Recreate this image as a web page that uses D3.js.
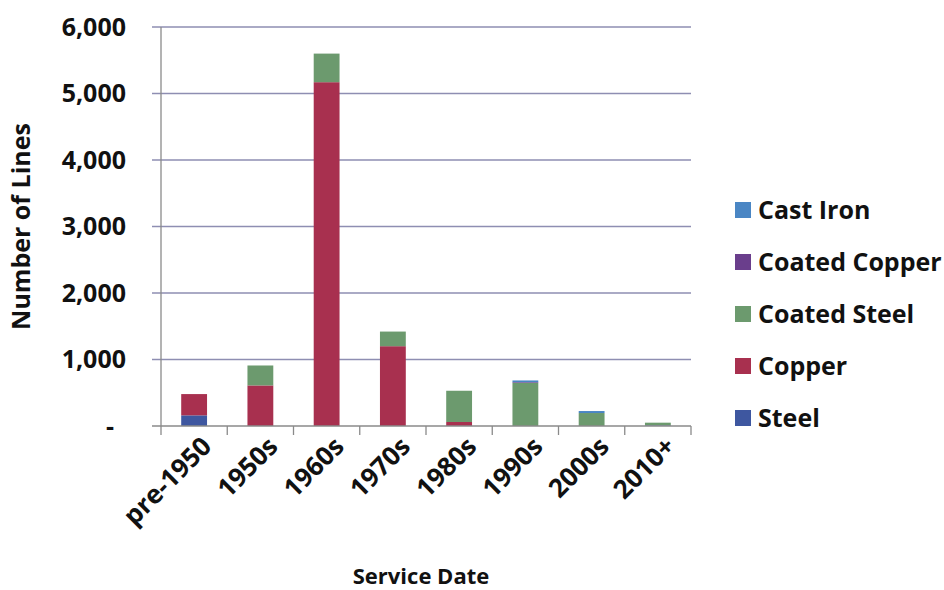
<!DOCTYPE html>
<html>
<head>
<meta charset="utf-8">
<script src="https://cdn.jsdelivr.net/npm/d3@7"></script>
<style>
  html, body { margin: 0; padding: 0; background: #fff; }
  svg { display: block; }
  text { font-family: "Open Sans", "Lato", sans-serif; font-weight: 700; fill: #111; }
</style>
</head>
<body>
<svg id="chart" width="944" height="590"></svg>
<script>
// Service lines by decade installed, split by material
const categories = ["pre-1950", "1950s", "1960s", "1970s", "1980s", "1990s", "2000s", "2010+"];
const steel        = [160,   0,    0,    0,   0,   0,   0, 10];
const copper       = [320, 610, 5170, 1200,  60,   0,   0,  0];
const coatedSteel  = [  0, 300,  430,  220, 470, 650, 195, 40];
const coatedCopper = [  0,   0,    0,    0,   0,  10,   0,  0];
const castIron     = [  0,   0,    0,    0,   0,  25,  30,  0];
const yTicks = [0, 1000, 2000, 3000, 4000, 5000, 6000];

// stacking order bottom -> top
const seriesNames = ["Steel", "Copper", "Coated Steel", "Coated Copper", "Cast Iron"];
const seriesValues = [steel, copper, coatedSteel, coatedCopper, castIron];
const colors = {
  "Cast Iron": "#4a86c4",
  "Coated Copper": "#6a3e8c",
  "Coated Steel": "#6c9a6e",
  "Copper": "#a8304f",
  "Steel": "#3e57a0"
};
const legendOrder = ["Cast Iron", "Coated Copper", "Coated Steel", "Copper", "Steel"];

const rows = categories.map((c, i) => {
  const r = { category: c };
  seriesNames.forEach((s, j) => { r[s] = seriesValues[j][i]; });
  return r;
});

const svg = d3.select("#chart");
const plotL = 161, plotR = 691, plotT = 27, plotB = 426;

const x = d3.scaleBand().domain(categories).range([plotL, plotR]).padding(0);
const y = d3.scaleLinear().domain([0, 6000]).range([plotB, plotT]);

// horizontal gridlines with small outside tick marks
svg.append("g").selectAll("line")
  .data(yTicks.filter(d => d > 0))
  .join("line")
  .attr("x1", plotL - 9).attr("x2", plotR)
  .attr("y1", d => y(d)).attr("y2", d => y(d))
  .attr("stroke", "#8e8eb2").attr("stroke-width", 1.3);

// y axis line
svg.append("line")
  .attr("x1", plotL).attr("x2", plotL).attr("y1", plotT).attr("y2", plotB)
  .attr("stroke", "#8a8a8a").attr("stroke-width", 1.3);

// y tick labels
svg.append("g").selectAll("text")
  .data(yTicks)
  .join("text")
  .attr("x", d => d === 0 ? 114 : 126)
  .attr("y", d => y(d))
  .attr("dy", "0.35em")
  .attr("text-anchor", "end")
  .style("font-size", "25px")
  .text(d => d === 0 ? "-" : d3.format(",")(d));

// stacked bars
const stacked = d3.stack().keys(seriesNames)(rows);
const barW = x.bandwidth() * 0.39;
svg.append("g").selectAll("g")
  .data(stacked)
  .join("g")
  .attr("fill", d => colors[d.key])
  .selectAll("rect")
  .data(d => d.filter(p => p[1] - p[0] > 0))
  .join("rect")
  .attr("x", d => x(d.data.category) + (x.bandwidth() - barW) / 2)
  .attr("width", barW)
  .attr("y", d => y(d[1]))
  .attr("height", d => y(d[0]) - y(d[1]));

// x axis baseline and ticks at category boundaries
svg.append("line")
  .attr("x1", plotL - 9).attr("x2", plotR).attr("y1", plotB).attr("y2", plotB)
  .attr("stroke", "#8a8a8a").attr("stroke-width", 1.3);
const bounds = categories.map(c => x(c)).concat([plotR]);
svg.append("g").selectAll("line")
  .data(bounds)
  .join("line")
  .attr("x1", d => d).attr("x2", d => d)
  .attr("y1", plotB).attr("y2", plotB + 9)
  .attr("stroke", "#8a8a8a").attr("stroke-width", 1.3);

// rotated category labels
svg.append("g").selectAll("text")
  .data(categories)
  .join("text")
  .attr("text-anchor", "end")
  .style("font-size", "26px")
  .attr("transform", c => `translate(${x(c) + x.bandwidth() / 2 + 19},${plotB + 22}) rotate(-45)`)
  .text(c => c);

// axis titles
svg.append("text")
  .attr("x", (plotL + plotR) / 2 - 5)
  .attr("y", 584)
  .attr("text-anchor", "middle")
  .style("font-size", "22px")
  .text("Service Date");

svg.append("text")
  .attr("transform", `translate(30,${(plotT + plotB) / 2}) rotate(-90)`)
  .attr("text-anchor", "middle")
  .style("font-size", "25px")
  .text("Number of Lines");

// legend
const lg = svg.append("g").selectAll("g")
  .data(legendOrder)
  .join("g")
  .attr("transform", (d, i) => `translate(735,${210 + i * 52})`);
lg.append("rect")
  .attr("x", 0).attr("y", -8).attr("width", 16).attr("height", 16)
  .attr("fill", d => colors[d]);
lg.append("text")
  .attr("x", 23).attr("y", 0).attr("dy", "0.35em")
  .style("font-size", "25px")
  .text(d => d);
</script>
</body>
</html>
